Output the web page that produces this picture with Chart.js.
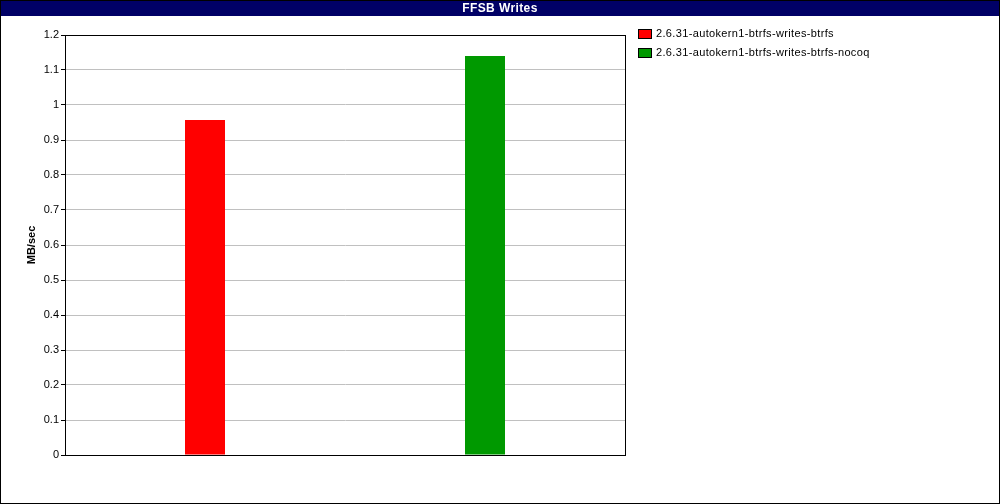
<!DOCTYPE html>
<html>
<head>
<meta charset="utf-8">
<script src="https://cdn.jsdelivr.net/npm/chart.js@4"></script>
<style>
html,body{margin:0;padding:0;background:#fff;}
#wrap{width:1000px;height:504px;position:relative;}
</style>
</head>
<body>
<div id="wrap"><canvas id="c" width="1000" height="504"></canvas></div>
<script>
const chartTitle = "FFSB Writes";
const yAxisTitle = "MB/sec";
const categories = ["btrfs", "btrfs-nocoq"];
const seriesNames = ["2.6.31-autokern1-btrfs-writes-btrfs", "2.6.31-autokern1-btrfs-writes-btrfs-nocoq"];
const seriesRed = [0.957, null];
const seriesGreen = [null, 1.14];
const seriesColors = ["#ff0000", "#009900"];
const yTicks = [0, 0.1, 0.2, 0.3, 0.4, 0.5, 0.6, 0.7, 0.8, 0.9, 1, 1.1, 1.2];

const FONT = "'Liberation Sans', Arial, sans-serif";

const decor = {
  id: 'decor',
  beforeDraw(chart) {
    const ctx = chart.ctx;
    ctx.save();
    ctx.fillStyle = '#fff';
    ctx.fillRect(0, 0, chart.width, chart.height);
    ctx.restore();
  },
  afterDraw(chart) {
    const ctx = chart.ctx;
    const a = chart.chartArea;
    ctx.save();
    // title bar
    ctx.fillStyle = '#000066';
    ctx.fillRect(0, 0, chart.width, 16);
    ctx.fillStyle = '#fff';
    ctx.font = 'bold 12px ' + FONT;
    ctx.letterSpacing = '0.4px';
    ctx.textAlign = 'center';
    ctx.textBaseline = 'middle';
    ctx.fillText(chartTitle, chart.width / 2, 8.5);
    ctx.letterSpacing = '0px';
    // outer border
    ctx.strokeStyle = '#000';
    ctx.lineWidth = 1;
    ctx.strokeRect(0.5, 0.5, chart.width - 1, chart.height - 1);
    // plot border
    ctx.strokeRect(Math.round(a.left) + 0.5, Math.round(a.top) + 0.5, Math.round(a.right - a.left), Math.round(a.bottom - a.top));
    // y axis title
    ctx.fillStyle = '#000';
    ctx.font = 'bold 11px ' + FONT;
    ctx.translate(32, (a.top + a.bottom) / 2);
    ctx.rotate(-Math.PI / 2);
    ctx.textAlign = 'center';
    ctx.textBaseline = 'middle';
    ctx.fillText(yAxisTitle, 0, 0);
    ctx.restore();
    // legend
    ctx.save();
    ctx.font = '11px ' + FONT;
    ctx.letterSpacing = '0.35px';
    ctx.textBaseline = 'middle';
    chart.data.datasets.forEach((ds, i) => {
      const y = 34 + i * 19;
      ctx.fillStyle = ds.backgroundColor;
      ctx.fillRect(638, y - 4, 13, 8);
      ctx.strokeStyle = '#000';
      ctx.lineWidth = 1;
      ctx.strokeRect(638.5, y - 4.5, 13, 9);
      ctx.fillStyle = '#000';
      ctx.fillText(ds.label, 656, y);
    });
    ctx.restore();
  }
};

new Chart(document.getElementById('c'), {
  type: 'bar',
  data: {
    labels: categories,
    datasets: [
      { label: seriesNames[0], data: seriesRed, backgroundColor: seriesColors[0] },
      { label: seriesNames[1], data: seriesGreen, backgroundColor: seriesColors[1] }
    ]
  },
  options: {
    responsive: false,
    animation: false,
    devicePixelRatio: 1,
    layout: { padding: { left: 20, right: 375, top: 35, bottom: 49 } },
    datasets: { bar: { grouped: false, barPercentage: 40 / 280, categoryPercentage: 1, borderWidth: 0 } },
    plugins: { legend: { display: false }, title: { display: false }, tooltip: { enabled: false } },
    scales: {
      x: {
        ticks: { display: false },
        grid: { display: false, drawTicks: false },
        border: { display: false },
        afterFit(s) { s.height = 0; }
      },
      y: {
        min: 0, max: 1.2,
        afterBuildTicks(s) { s.ticks = yTicks.map(v => ({ value: v })); },
        afterFit(s) { s.width = 45; },
        ticks: {
          color: '#000',
          font: { family: FONT, size: 11 },
          padding: 2,
          callback: v => String(Math.round(v * 10) / 10)
        },
        grid: { color: '#c0c0c0', tickColor: '#000', tickLength: 4, lineWidth: 1 },
        border: { display: true, color: '#000' }
      }
    }
  },
  plugins: [decor]
});
</script>
</body>
</html>
